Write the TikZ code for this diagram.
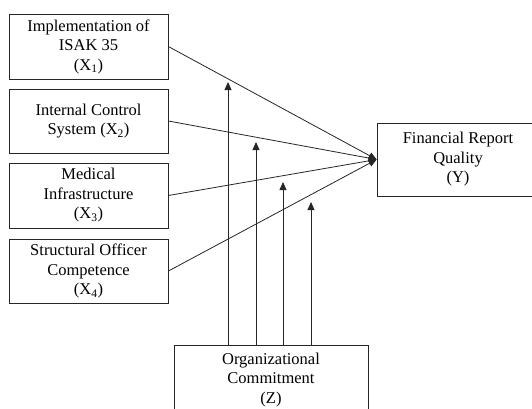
\documentclass[tikz,border=0pt]{standalone}
\usepackage{fontspec}
\setmainfont{Liberation Serif}
\usetikzlibrary{arrows.meta}
\begin{document}
\begin{tikzpicture}[x=1pt,y=-1pt,
  box/.style={draw=black!85, line width=0.8pt, align=center, inner sep=0pt,
    font=\fontsize{16.5}{19.5}\selectfont},
  link/.style={draw=black!85, line width=0.8pt, -{Triangle[length=8pt,width=7pt]}},
]
\useasboundingbox (0,0) rectangle (532,408);
\clip (0,0) rectangle (532,408);
\node[box, minimum width=159pt, minimum height=65pt] (x1) at (88.5,46.5) {Implementation of\\ISAK 35\\(X\textsubscript{1})};
\node[box, minimum width=159pt, minimum height=64pt] (x2) at (88.5,121) {Internal Control\\System (X\textsubscript{2})};
\node[box, minimum width=159pt, minimum height=65pt] (x3) at (88.5,195.5) {Medical\\Infrastructure\\(X\textsubscript{3})};
\node[box, minimum width=159pt, minimum height=64pt] (x4) at (88.5,271) {Structural Officer\\Competence\\(X\textsubscript{4})};
\node[box, minimum width=162pt, minimum height=73pt] (y) at (458,159.5) {Financial Report\\Quality\\(Y)};
\node[box, minimum width=194pt, minimum height=70pt] (z) at (271,380) {Organizational\\Commitment\\(Z)};
\draw[link] (x1.east) -- (y.west);
\draw[link] (x2.east) -- (y.west);
\draw[link] (x3.east) -- (y.west);
\draw[link] (x4.east) -- (y.west);
\coordinate (t1) at (228,82);
\coordinate (t2) at (256,142);
\coordinate (t3) at (283,182);
\coordinate (t4) at (311,202);
\draw[link] (z.north -| t1) -- (t1);
\draw[link] (z.north -| t2) -- (t2);
\draw[link] (z.north -| t3) -- (t3);
\draw[link] (z.north -| t4) -- (t4);
\end{tikzpicture}
\end{document}
